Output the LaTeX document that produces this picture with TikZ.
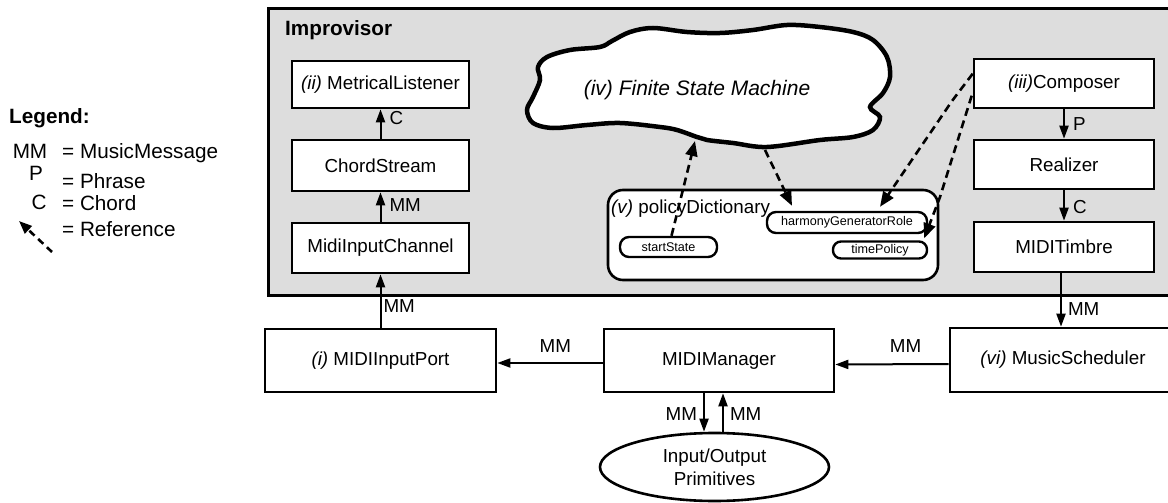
\documentclass[tikz,border=0pt]{standalone}
\usepackage{fontspec}
\setmainfont{Liberation Sans}
\usetikzlibrary{arrows.meta,shapes.geometric,calc}
\definecolor{impgray}{RGB}{221,221,221}
\newcommand\fMain{\fontsize{18.8}{23}\selectfont}
\newcommand\fBig{\fontsize{20.7}{24}\selectfont}
\newcommand\fCloud{\fontsize{21}{25}\selectfont}
\newcommand\fSmall{\fontsize{12.6}{15}\selectfont}
\begin{document}
\begin{tikzpicture}[x=1pt,y=-1pt,
  box/.style={draw,line width=2.6pt,fill=white,inner sep=0pt,font=\fMain},
  pill/.style={draw,line width=2.4pt,fill=white,rounded corners=9pt,inner sep=0pt,font=\fSmall},
  flow/.style={line width=2pt,-{Triangle[length=13pt,width=9pt]}},
  ref/.style={line width=2.6pt,dash pattern=on 8pt off 5pt,-{Triangle[length=15pt,width=12pt]}},
  lab/.style={font=\fMain,inner sep=0pt},
  leg/.style={font=\fBig,inner sep=0pt}
]
\useasboundingbox (0,0) rectangle (1168,503);
\clip (0,0) rectangle (1168,503);

% Improvisor container
\draw[line width=3pt,fill=impgray] (268,9) rectangle (1190,295);
\node[font=\bfseries\fBig,anchor=west,inner sep=0pt] (implabel) at (285,30) {Improvisor};

% cloud
\draw[line width=4.5pt,fill=white] plot[smooth cycle,tension=0.55] coordinates {
 (612,41) (630,32) (653,28) (687,32) (720,33) (753,30) (787,25) (820,27) (853,32)
 (873,40) (887,57) (890,77) (883,93) (870,107) (880,117) (873,130) (853,137)
 (820,140) (767,147) (733,143) (707,140) (697,137) (677,130) (660,127) (620,123)
 (587,125) (553,128) (533,123) (527,110) (533,97) (540,80) (538,67) (547,57)
 (570,50) (600,47)};
\node[font=\itshape\fCloud,inner sep=0pt] (fsm) at (697,90) {(iv) Finite State Machine};
\coordinate (fsmS) at (695,141);
\coordinate (fsmH) at (765,150);

% left column
\node[box,minimum width=177pt,minimum height=47pt] (ml) at (380.5,84.5) {{\itshape (ii)} MetricalListener};
\node[box,minimum width=177pt,minimum height=51pt] (cs) at (380.5,165.5) {ChordStream};
\node[box,minimum width=177pt,minimum height=50pt] (mic) at (380.5,248) {MidiInputChannel};

% right column
\node[box,minimum width=180pt,minimum height=49pt] (comp) at (1064,83.5) {{\itshape (iii)}Composer};
\node[box,minimum width=180pt,minimum height=49pt] (real) at (1064,164.5) {Realizer};
\node[box,minimum width=180pt,minimum height=50pt] (timb) at (1064,247) {MIDITimbre};

% policy dictionary
\node[draw,line width=2.6pt,fill=white,rounded corners=15pt,minimum width=330pt,minimum height=90pt,inner sep=0pt] (pd) at (773,235) {};
\node[font=\fMain,anchor=base west,inner sep=0pt] (pdlabel) at (611,213) {{\itshape (v)} policyDictionary};
\node[pill,minimum width=97pt,minimum height=20pt] (ss) at (668.5,247) {startState};
\node[pill,minimum width=160pt,minimum height=21pt] (hgr) at (847,222.5) {harmonyGeneratorRole};
\node[pill,minimum width=94pt,minimum height=17pt,rounded corners=8pt] (tp) at (880,250) {timePolicy};

% bottom row
\node[box,minimum width=231pt,minimum height=63pt] (mip) at (380.5,360.5) {{\itshape (i)} MIDIInputPort};
\node[box,minimum width=230pt,minimum height=63pt] (mgr) at (719,360.5) {MIDIManager};
\node[box,minimum width=226pt,minimum height=64pt] (ms) at (1063,360) {{\itshape (vi)} MusicScheduler};
\node[draw,ellipse,line width=2.6pt,fill=white,minimum width=229pt,minimum height=68pt,inner sep=0pt,font=\fMain,align=center] (io) at (714.5,467) {Input/Output\\Primitives};

\coordinate (mgrD) at ($(mgr.south)+(-15,0)$);
\coordinate (mgrU) at ($(mgr.south)+(4,0)$);
\coordinate (ioD) at (mgrD |- io.north);
\coordinate (ioU) at (mgrU |- io.north);

% flows
\draw[flow] (cs.north) -- node[lab,pos=0.7,anchor=west,xshift=8pt]{C} (ml.south);
\draw[flow] (mic.north) -- node[lab,pos=0.55,anchor=west,xshift=8pt]{MM} (cs.south);
\draw[flow] (mip.north) -- node[lab,pos=0.41,anchor=west,xshift=2pt]{MM} (mic.south);
\draw[flow] (comp.south) -- node[lab,pos=0.5,anchor=west,xshift=8pt]{P} (real.north);
\draw[flow] (real.south) -- node[lab,pos=0.55,anchor=west,xshift=8pt]{C} (timb.north);
\draw[flow] ($(timb.south)+(-3,0)$) -- node[lab,pos=0.66,anchor=west,xshift=6pt]{MM} ($(ms.north)+(-2,0)$);
\draw[flow] ($(ms.west)+(0,4)$) -- node[lab,pos=0.38,yshift=18pt]{MM} ($(mgr.east)+(0,4)$);
\draw[flow] ($(mgr.west)+(0,2.5)$) -- node[lab,pos=0.45,yshift=17pt]{MM} ($(mip.east)+(0,2.5)$);
\draw[flow] (mgrD) -- node[lab,pos=0.55,anchor=east,xshift=-6pt]{MM} (ioD);
\draw[flow] (ioU) -- node[lab,pos=0.45,anchor=west,xshift=6pt]{MM} (mgrU);

% references
\coordinate (cA) at ($(comp.north west)+(0,16)$);
\coordinate (cB) at ($(comp.north west)+(-1,38)$);
\draw[ref] ($(ss.north)+(3,0)$) -- (fsmS);
\draw[ref] (fsmH) -- ($(hgr.north)+(-55,-5)$);
\draw[ref] (cA) -- (952,101) -- ($(hgr.north)+(33,-4)$);
\draw[ref] (cB) -- (940,197) -- ($(tp.north east)+(-4,-2)$);

% legend
\node[font=\bfseries\fBig,anchor=west,inner sep=0pt] (legt) at (9,118) {Legend:};
\node[leg] (lmm) at (30,151) {MM};
\node[leg,anchor=west] (lmmt) at (62,153) {= MusicMessage};
\node[leg] (lp) at (36,173) {P};
\node[leg,anchor=west] (lpt) at (62,181) {= Phrase};
\node[leg] (lc) at (39,202) {C};
\node[leg,anchor=west] (lct) at (62,203) {= Chord};
\node[leg,anchor=west] (lrt) at (62,229) {= Reference};
\coordinate (lra) at (52,252);
\coordinate (lrb) at (19,221);
\draw[line width=2.6pt,dash pattern=on 7pt off 5pt,-{Triangle[length=13pt,width=10pt]}] (lra) -- (lrb);
\end{tikzpicture}
\end{document}
